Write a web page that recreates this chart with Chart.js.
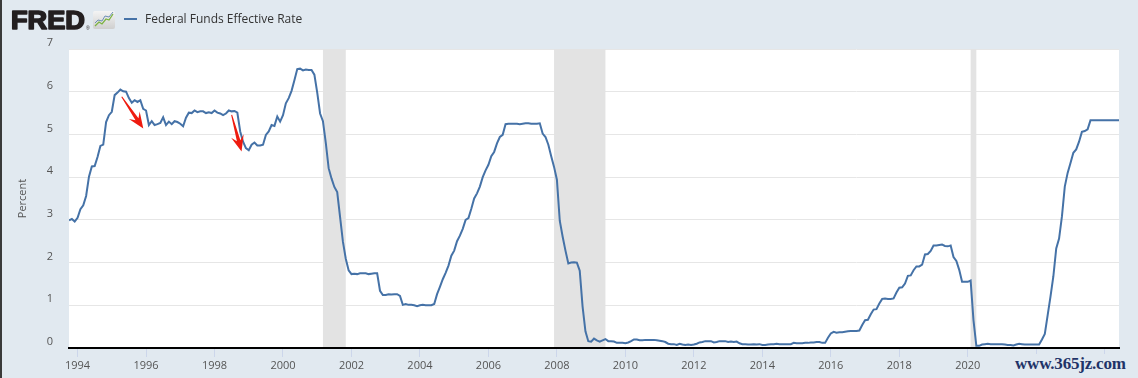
<!DOCTYPE html>
<html>
<head>
<meta charset="utf-8">
<script src="https://cdn.jsdelivr.net/npm/chart.js@4/dist/chart.umd.min.js"></script>
<style>
  html, body { margin: 0; padding: 0; background: #e1e9f0; }
  #wrap { position: relative; width: 1138px; height: 378px; overflow: hidden; }
  #edge { position: absolute; left: 0; top: 0; width: 2px; height: 378px; background: #3a3a3a; }
  #head { position: absolute; left: 0; top: 0; }
  #mark { position: absolute; left: 1012px; top: 354px; padding: 0 3px; background: #e1e9f0;
          font: bold 17px "Liberation Serif", "DejaVu Serif", serif; color: #1f3468; letter-spacing: -0.2px; }
</style>
</head>
<body>
<div id="wrap">
  <canvas id="chart" width="1138" height="378"></canvas>
  <div id="edge"></div>
  <svg id="head" width="420" height="40">
    <defs>
      <linearGradient id="ic" x1="0" y1="0" x2="0" y2="1">
        <stop offset="0" stop-color="#f4f4f4"/>
        <stop offset="1" stop-color="#cfcfcf"/>
      </linearGradient>
    </defs>
    <text x="11" y="29" font-family="Liberation Sans, Arial, sans-serif" font-weight="bold" font-size="25"
          textLength="74" lengthAdjust="spacingAndGlyphs" fill="#231f20"
          stroke="#231f20" stroke-width="1.6" stroke-linejoin="round">FRED</text>
    <text x="86" y="30" font-family="Liberation Sans, Arial, sans-serif" font-size="5" fill="#231f20">®</text>
    <rect x="93" y="11" width="22" height="18" rx="2" fill="url(#ic)"/>
    <polyline points="95,26 99,22 102,24 106,19 109,20 113,14" fill="none" stroke="#7cb342" stroke-width="1.3"/>
    <polyline points="95,23 98,20 102,21 105,16 109,17 113,12" fill="none" stroke="#6d8fb5" stroke-width="1"/>
    <line x1="124" y1="19" x2="137" y2="19" stroke="#4572a7" stroke-width="2"/>
    <text x="145" y="23" font-family="Open Sans, sans-serif" font-size="12" fill="#333">Federal Funds Effective Rate</text>
  </svg>
  <div id="mark">www.365jz.com</div>
</div>
<script>
// ─── DATA ───────────────────────────────────────────────────────
// monthly effective federal funds rate, Oct 1993 .. Jun 2024 (percent)
const startYear = 1993 + 9 / 12;

const rates1990s = [
  2.99, 3.02, 2.96,
  3.05, 3.25, 3.34, 3.56, 4.01, 4.25, 4.26, 4.47, 4.73, 4.76, 5.29, 5.45,
  5.53, 5.92, 5.98, 6.05, 6.01, 6.00, 5.85, 5.74, 5.80, 5.76, 5.80, 5.60,
  5.56, 5.22, 5.31, 5.22, 5.24, 5.27, 5.40, 5.22, 5.30, 5.24, 5.31, 5.29,
  5.25, 5.19, 5.39, 5.51, 5.50, 5.56, 5.52, 5.54, 5.54, 5.50, 5.52, 5.50,
  5.56, 5.51, 5.49, 5.45, 5.49, 5.56, 5.54, 5.55, 5.51, 5.07, 4.83, 4.68,
  4.63, 4.76, 4.81, 4.74, 4.74, 4.76, 4.99, 5.07, 5.22, 5.20, 5.42, 5.30
];
const rates2000s = [
  5.45, 5.73, 5.85, 6.02, 6.27, 6.53, 6.54, 6.50, 6.52, 6.51, 6.51, 6.40,
  5.98, 5.49, 5.31, 4.80, 4.21, 3.97, 3.77, 3.65, 3.07, 2.49, 2.09, 1.82,
  1.73, 1.74, 1.73, 1.75, 1.75, 1.75, 1.73, 1.74, 1.75, 1.75, 1.34, 1.24,
  1.24, 1.26, 1.25, 1.26, 1.26, 1.22, 1.01, 1.03, 1.01, 1.01, 1.00, 0.98,
  1.00, 1.01, 1.00, 1.00, 1.00, 1.03, 1.26, 1.43, 1.61, 1.76, 1.93, 2.16,
  2.28, 2.50, 2.63, 2.79, 3.00, 3.04, 3.26, 3.50, 3.62, 3.78, 4.00, 4.16,
  4.29, 4.49, 4.59, 4.79, 4.94, 4.99, 5.24, 5.25, 5.25, 5.25, 5.25, 5.24,
  5.25, 5.26, 5.26, 5.25, 5.25, 5.25, 5.26, 5.02, 4.94, 4.76, 4.49, 4.24,
  3.94, 2.98, 2.61, 2.28, 1.98, 2.00, 2.01, 2.00, 1.81, 0.97, 0.39, 0.16,
  0.15, 0.22, 0.18, 0.15, 0.18, 0.21, 0.16, 0.16, 0.15, 0.12, 0.12, 0.12
];
const rates2010s = [
  0.11, 0.13, 0.16, 0.20, 0.20, 0.18, 0.18, 0.19, 0.19, 0.19, 0.19, 0.18,
  0.17, 0.16, 0.14, 0.10, 0.09, 0.09, 0.07, 0.10, 0.08, 0.07, 0.08, 0.07,
  0.08, 0.10, 0.13, 0.14, 0.16, 0.16, 0.16, 0.13, 0.14, 0.16, 0.16, 0.16,
  0.14, 0.15, 0.14, 0.15, 0.11, 0.09, 0.09, 0.08, 0.08, 0.09, 0.08, 0.09,
  0.07, 0.07, 0.08, 0.09, 0.09, 0.10, 0.09, 0.09, 0.09, 0.09, 0.09, 0.12,
  0.11, 0.11, 0.11, 0.12, 0.12, 0.13, 0.13, 0.14, 0.14, 0.12, 0.12, 0.24,
  0.34, 0.38, 0.36, 0.37, 0.37, 0.38, 0.39, 0.40, 0.40, 0.40, 0.41, 0.54,
  0.65, 0.66, 0.79, 0.90, 0.91, 1.04, 1.15, 1.16, 1.15, 1.15, 1.16, 1.30,
  1.41, 1.42, 1.51, 1.69, 1.70, 1.82, 1.91, 1.91, 1.95, 2.19, 2.20, 2.27,
  2.40, 2.40, 2.41, 2.42, 2.39, 2.38, 2.40, 2.13, 2.04, 1.83, 1.55, 1.55
];
const rates2020s = [
  1.55, 1.58, 0.65, 0.05, 0.05, 0.08, 0.09, 0.10, 0.09, 0.09, 0.09, 0.09,
  0.09, 0.08, 0.07, 0.07, 0.06, 0.08, 0.10, 0.09, 0.08, 0.08, 0.08, 0.08,
  0.08, 0.08, 0.20, 0.33, 0.77, 1.21, 1.68, 2.33, 2.56, 3.08, 3.78, 4.10,
  4.33, 4.57, 4.65, 4.83, 5.06, 5.08, 5.12, 5.33, 5.33, 5.33, 5.33, 5.33,
  5.33, 5.33, 5.33, 5.33, 5.33, 5.33
];

// NBER recessions (start, end) as decimal years
const recessions = [
  [2001 + 2 / 12, 2001 + 10 / 12],
  [2007 + 11 / 12, 2009 + 5 / 12],
  [2020 + 1 / 12, 2020 + 3 / 12]
];

const xTickYears = [1994, 1996, 1998, 2000, 2002, 2004, 2006, 2008, 2010, 2012, 2014, 2016, 2018, 2020, 2022, 2024];
const hiddenYearLabels = [2022, 2024]; // sit under the watermark
const yTicks = [0, 1, 2, 3, 4, 5, 6, 7];

// red arrows drawn on the picture, in data units
const arrowNotes = [
  { from: [1995.29, 5.88], to: [1995.92, 5.14] },
  { from: [1998.50, 5.46], to: [1998.79, 4.60] }
];

// ─── CHART ──────────────────────────────────────────────────────
const lineColor = '#4572a7';
const tickFont = { family: '"Open Sans", sans-serif', size: 11 };

const allRates = [...rates1990s, ...rates2000s, ...rates2010s, ...rates2020s];
const points = allRates.map((v, i) => ({ x: startYear + i / 12, y: v }));
const lastX = points[points.length - 1].x;

const plotBg = {
  id: 'plotBg',
  beforeDraw(chart) {
    const { ctx, chartArea: a } = chart;
    ctx.save();
    ctx.fillStyle = '#ffffff';
    ctx.fillRect(a.left, a.top, a.right - a.left, a.bottom - a.top);
    ctx.restore();
  }
};

const recessionBands = {
  id: 'recessionBands',
  beforeDatasetsDraw(chart) {
    const { ctx, chartArea: a, scales: { x } } = chart;
    ctx.save();
    ctx.fillStyle = '#e3e3e3';
    recessions.forEach(([s, e]) => {
      const x0 = x.getPixelForValue(s), x1 = x.getPixelForValue(e);
      ctx.fillRect(x0, a.top, x1 - x0, a.bottom - a.top - 1);
    });
    ctx.restore();
  }
};

const arrows = {
  id: 'arrows',
  afterDatasetsDraw(chart) {
    const { ctx, scales: { x, y } } = chart;
    ctx.save();
    ctx.fillStyle = '#ee1b0f';
    arrowNotes.forEach(n => {
      const fx = x.getPixelForValue(n.from[0]), fy = y.getPixelForValue(n.from[1]);
      const tx = x.getPixelForValue(n.to[0]), ty = y.getPixelForValue(n.to[1]);
      const len = Math.hypot(tx - fx, ty - fy);
      const ux = (tx - fx) / len, uy = (ty - fy) / len;
      const nx = -uy, ny = ux;
      const hl = 16, hw = 6.5, sw = 1.8;
      const bx = tx - ux * hl, by = ty - uy * hl;
      const mx = tx - ux * hl * 0.7, my = ty - uy * hl * 0.7;
      ctx.beginPath();
      ctx.moveTo(fx - nx * 0.5, fy - ny * 0.5);
      ctx.lineTo(fx + nx * 0.5, fy + ny * 0.5);
      ctx.lineTo(mx + nx * sw, my + ny * sw);
      ctx.lineTo(bx + nx * hw, by + ny * hw);
      ctx.lineTo(tx, ty);
      ctx.lineTo(bx - nx * hw, by - ny * hw);
      ctx.lineTo(mx - nx * sw, my - ny * sw);
      ctx.closePath();
      ctx.fill();
    });
    ctx.restore();
  }
};

new Chart(document.getElementById('chart'), {
  type: 'line',
  data: {
    datasets: [{
      label: 'Federal Funds Effective Rate',
      data: points,
      borderColor: lineColor,
      borderWidth: 2,
      pointRadius: 0,
      tension: 0,
      fill: false,
    }]
  },
  options: {
    responsive: false,
    animation: false,
    events: [],
    layout: { padding: { top: 49, left: 2, right: 19, bottom: 0 } },
    plugins: { legend: { display: false }, tooltip: { enabled: false } },
    scales: {
      x: {
        type: 'linear',
        min: startYear,
        max: lastX,
        afterBuildTicks: s => { s.ticks = xTickYears.map(v => ({ value: v })); },
        afterFit: s => { s.height = 30; },
        grid: { drawOnChartArea: false, drawTicks: true, tickLength: 9, color: '#ccd6eb' },
        border: { display: true, color: '#000000', width: 2 },
        ticks: {
          padding: 2,
          color: '#555',
          font: tickFont,
          maxRotation: 0,
          autoSkip: false,
          callback: v => hiddenYearLabels.includes(v) ? '' : String(v),
        },
      },
      y: {
        min: 0,
        max: 7,
        afterBuildTicks: s => { s.ticks = yTicks.map(v => ({ value: v })); },
        afterFit: s => { s.width = 67; },
        grid: { color: '#e6e6e6', drawTicks: false },
        border: { display: false },
        ticks: { padding: 16, labelOffset: -6, color: '#555', font: tickFont },
        title: {
          display: true,
          text: 'Percent',
          color: '#555',
          font: tickFont,
          padding: { top: 14, bottom: 0 },
        },
      }
    }
  },
  plugins: [plotBg, recessionBands, arrows]
});
</script>
</body>
</html>
